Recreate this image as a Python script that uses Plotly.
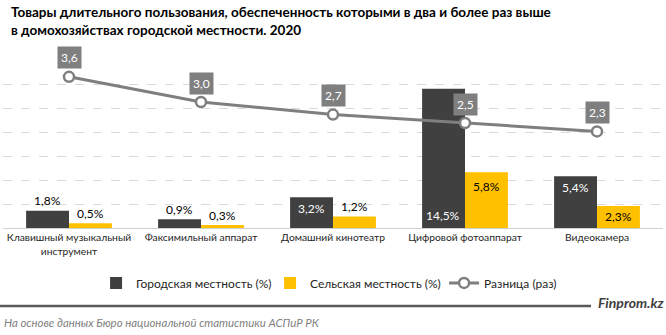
import plotly.graph_objects as go

categories = ["Клавишный музыкальный<br>инструмент", "Факсимильный аппарат",
              "Домашний кинотеатр", "Цифровой фотоаппарат", "Видеокамера"]
urban = [1.8, 0.9, 3.2, 14.5, 5.4]
rural = [0.5, 0.3, 1.2, 5.8, 2.3]
ratio = [3.6, 3.0, 2.7, 2.5, 2.3]

def fmt(v, pct=True):
    s = f"{v:.1f}".replace(".", ",")
    return s + "%" if pct else s

FONT = "Lato"
DARK = "#404040"
YEL = "#FFC000"
GRAY = "#7F7F7F"

fig = go.Figure()
fig.add_trace(go.Bar(x=categories, y=urban, name="Городская местность (%)",
                     marker=dict(color=DARK, line=dict(width=0)), offsetgroup="u"))
fig.add_trace(go.Bar(x=categories, y=rural, name="Сельская местность (%)",
                     marker=dict(color=YEL, line=dict(width=0)), offsetgroup="r"))
fig.add_trace(go.Scatter(x=categories, y=ratio, name="Разница (раз)", yaxis="y2",
                         mode="lines+markers",
                         line=dict(color=GRAY, width=3),
                         marker=dict(size=10, color="white", line=dict(color=GRAY, width=2.5))))

ann = []
for c, v in zip(categories, urban):
    if v < 2.5:
        ann.append(dict(x=c, y=v, yref="y", text=fmt(v), xshift=-22, yshift=10, color="#000000"))
    elif v > 10:
        ann.append(dict(x=c, y=0, yref="y", text=fmt(v), xshift=-22, yshift=13, color="white"))
    else:
        ann.append(dict(x=c, y=v, yref="y", text=fmt(v), xshift=-22, yshift=-11, color="white"))
for c, v in zip(categories, rural):
    if v < 2:
        ann.append(dict(x=c, y=v, yref="y", text=fmt(v), xshift=21, yshift=10, color="#000000"))
    elif v < 3:
        ann.append(dict(x=c, y=v / 2, yref="y", text=fmt(v), xshift=21, yshift=0, color="#000000"))
    else:
        ann.append(dict(x=c, y=v, yref="y", text=fmt(v), xshift=21, yshift=-14, color="#000000"))

for a in ann:
    fig.add_annotation(x=a["x"], y=a["y"], xref="x", yref=a["yref"], text=a["text"],
                       showarrow=False, xshift=a["xshift"], yshift=a["yshift"],
                       font=dict(color=a["color"], size=12, family=FONT))
for c, v in zip(categories, ratio):
    fig.add_annotation(x=c, y=v, xref="x", yref="y2", text=fmt(v, False), showarrow=False,
                       yshift=19, bgcolor=GRAY, borderpad=3,
                       font=dict(color="white", size=12, family=FONT))

fig.update_layout(
    width=666, height=335,
    margin=dict(l=3, r=3, t=60, b=107),
    paper_bgcolor="white", plot_bgcolor="white",
    barmode="group", bargap=0.35, bargroupgap=0,
    font=dict(family=FONT, color="#404040"),
    showlegend=True,
    legend=dict(orientation="h", x=0.141, y=-0.327, xanchor="left", yanchor="middle",
                font=dict(size=12, family=FONT, color="#262626"), itemwidth=30,
                entrywidth=129, traceorder="normal"),
    xaxis=dict(showgrid=False, showline=True, linecolor="#D0D0D0", linewidth=1,
               tickangle=0, tickfont=dict(size=10.3, family=FONT, color="#262626"), ticks=""),
    yaxis=dict(range=[0, 17.5], dtick=2.5, showgrid=True, gridcolor="#D9D9D9",
               griddash="dash", showticklabels=False, zeroline=False),
    yaxis2=dict(range=[0, 4], overlaying="y", showgrid=False, showticklabels=False,
                zeroline=False),
)

fig.add_annotation(x=0.009, y=1, xref="paper", yref="paper", yanchor="top", xanchor="left",
                   align="left", showarrow=False, yshift=58,
                   text="<b>Товары длительного пользования, обеспеченность которыми в два и более раз выше<br>в домохозяйствах городской местности. 2020</b>",
                   font=dict(size=13.5, family=FONT, color="#000000"))
fig.add_shape(type="line", xref="paper", yref="paper", x0=-0.005, x1=0.891,
              y0=-0.464, y1=-0.464, line=dict(color="#595959", width=2.5))
fig.add_annotation(x=1.005, y=-0.446, xref="paper", yref="paper", xanchor="right", yanchor="middle",
                   showarrow=False, text="<b><i>Finprom.kz</i></b>",
                   font=dict(size=14, family=FONT, color="#404040"))
fig.add_annotation(x=-0.002, y=-0.56, xref="paper", yref="paper", xanchor="left", yanchor="middle",
                   showarrow=False, text="<i>На основе данных Бюро национальной статистики АСПиР РК</i>",
                   font=dict(size=11.4, family=FONT, color="#7F7F7F"))

fig.write_html("out.html")
